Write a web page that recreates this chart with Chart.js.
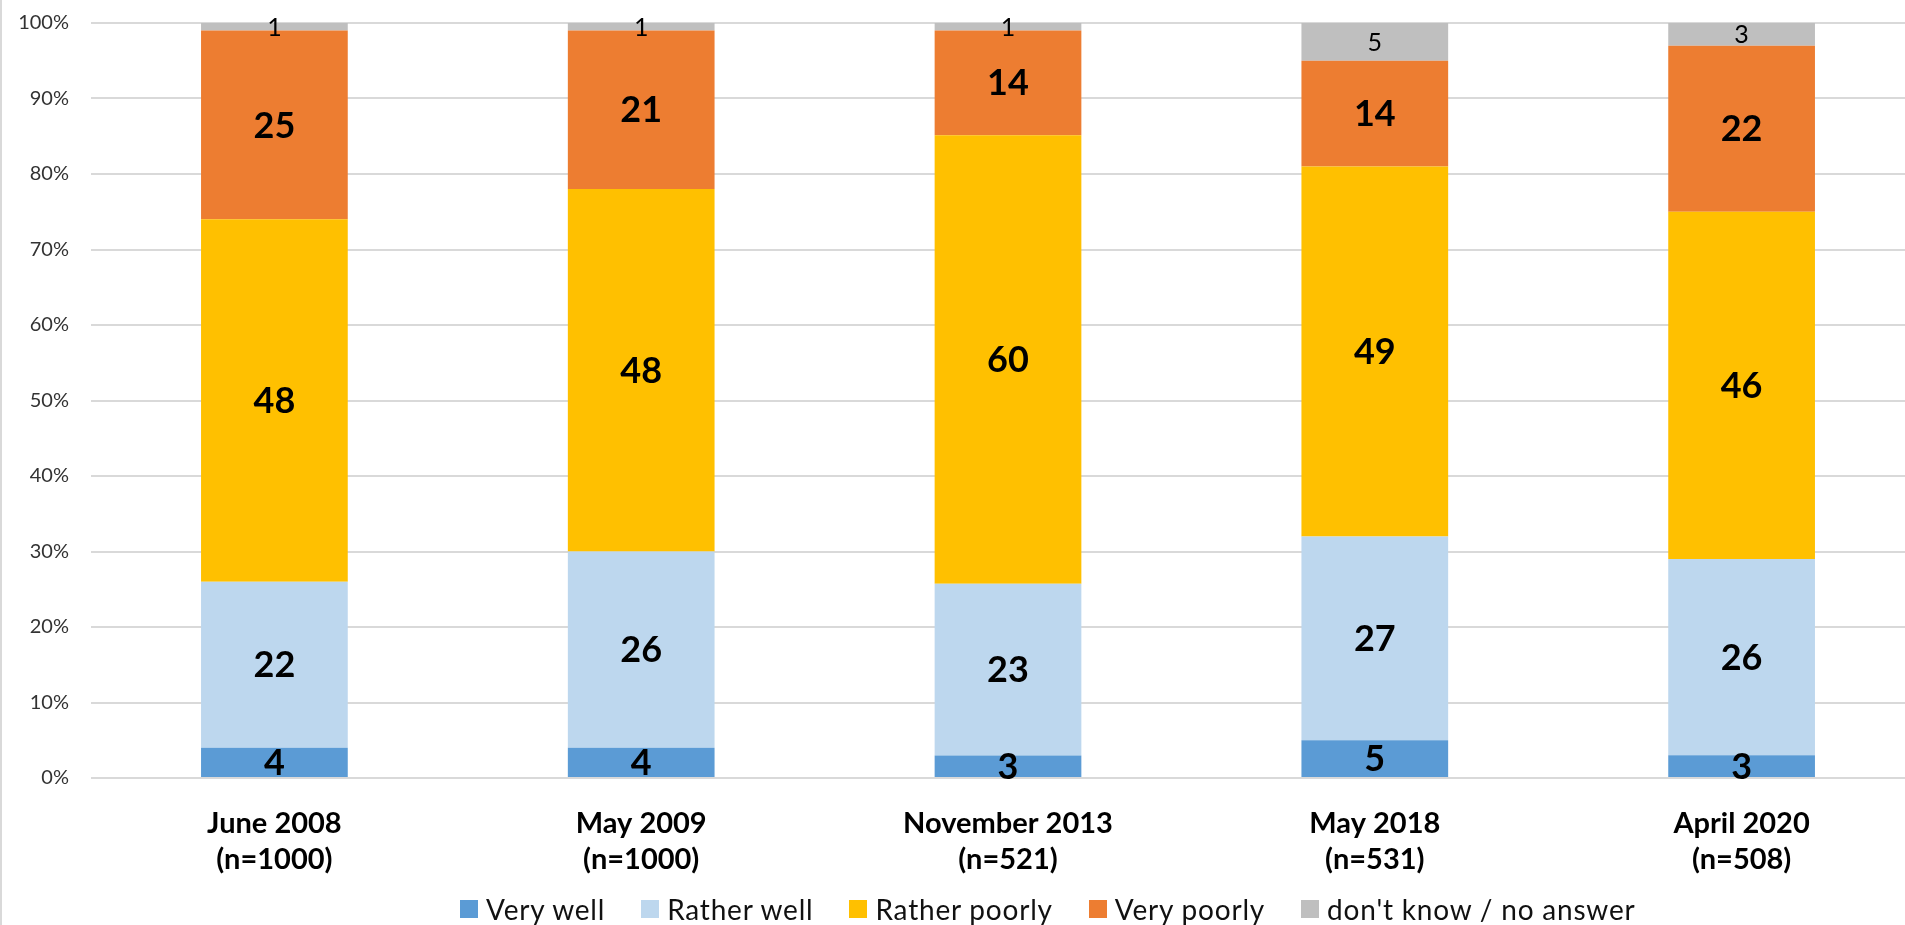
<!DOCTYPE html>
<html>
<head>
<meta charset="utf-8">
<script src="https://cdn.jsdelivr.net/npm/chart.js@4.4.1/dist/chart.umd.min.js"></script>
<style>
  html, body { margin: 0; padding: 0; background: #fff; overflow: hidden; }
  #wrap { position: relative; width: 1925px; height: 925px; }
  #wrap::before { content: ''; position: absolute; left: 0; top: 0; width: 2px; height: 925px; background: #d9d9d9; z-index: 2; }
  #legend {
    position: absolute; left: 460px; top: 892px; display: flex; align-items: center;
    font-family: Lato, sans-serif; font-size: 28px; letter-spacing: 0.8px; color: #111; white-space: nowrap;
  }
  #legend .item { display: flex; align-items: center; margin-right: 36px; }
  #legend .sw { width: 18px; height: 18px; margin-right: 8px; }
</style>
</head>
<body>
<div id="wrap">
  <canvas id="chart"></canvas>
  <div id="legend"></div>
</div>
<script>
/* global Chart */
const categories = [
  ['June 2008', '(n=1000)'],
  ['May 2009', '(n=1000)'],
  ['November 2013', '(n=521)'],
  ['May 2018', '(n=531)'],
  ['April 2020', '(n=508)']
];
const seriesNames = ['Very well', 'Rather well', 'Rather poorly', 'Very poorly', "don't know / no answer"];
const seriesColors = ['#5b9bd5', '#bdd7ee', '#ffc000', '#ed7d31', '#bfbfbf'];
const veryWell = [4, 4, 3, 5, 3];
const ratherWell = [22, 26, 23, 27, 26];
const ratherPoorly = [48, 48, 60, 49, 46];
const veryPoorly = [25, 21, 14, 14, 22];
const dontKnow = [1, 1, 1, 5, 3];
const yTicks = [0, 10, 20, 30, 40, 50, 60, 70, 80, 90, 100];

const series = [veryWell, ratherWell, ratherPoorly, veryPoorly, dontKnow];
// 100% stacked: each column normalised to its own total
const totals = categories.map((_, i) => series.reduce((s, arr) => s + arr[i], 0));

const segLabels = {
  id: 'segLabels',
  afterDatasetsDraw(chart) {
    const ctx = chart.ctx;
    chart.data.datasets.forEach((ds, di) => {
      const meta = chart.getDatasetMeta(di);
      const small = di === 4;
      meta.data.forEach((bar, i) => {
        ctx.save();
        ctx.font = small ? '25px Lato' : 'bold 36px Lato';
        ctx.fillStyle = '#000';
        ctx.textAlign = 'center';
        ctx.textBaseline = 'middle';
        ctx.fillText(String(series[di][i]), bar.x, (bar.y + bar.base) / 2 + 1);
        ctx.restore();
      });
    });
  }
};

new Chart(document.getElementById('chart'), {
  type: 'bar',
  data: {
    labels: categories,
    datasets: series.map((arr, di) => ({
      label: seriesNames[di],
      data: arr.map((v, i) => v / totals[i] * 100),
      backgroundColor: seriesColors[di],
      borderWidth: 0,
      categoryPercentage: 1,
      barPercentage: 0.4
    }))
  },
  options: {
    responsive: true,
    maintainAspectRatio: false,
    animation: false,
    layout: { padding: { top: 23, right: 0, bottom: 0, left: 0 } },
    plugins: { legend: { display: false }, tooltip: { enabled: false } },
    scales: {
      x: {
        stacked: true,
        grid: { display: false, drawTicks: false },
        border: { display: false },
        ticks: { color: '#000', padding: 28, font: { family: 'Lato', size: 29, weight: 'bold', lineHeight: 1.24 } },
        afterFit: (s) => { s.height = 147; }
      },
      y: {
        stacked: true, min: 0, max: 100,
        afterBuildTicks: (s) => { s.ticks = yTicks.map(v => ({ value: v })); },
        grid: { color: '#d9d9d9', lineWidth: 2, drawTicks: false },
        border: { display: false },
        ticks: { color: '#333', padding: 22, font: { family: 'Lato', size: 20 }, callback: (v) => v + '%' },
        afterFit: (s) => { s.width = 91; s.paddingTop = 0; s.paddingBottom = 0; }
      }
    }
  },
  plugins: [segLabels]
});

const legend = document.getElementById('legend');
seriesNames.forEach((name, i) => {
  const item = document.createElement('div');
  item.className = 'item';
  const sw = document.createElement('span');
  sw.className = 'sw';
  sw.style.background = seriesColors[i];
  const txt = document.createElement('span');
  txt.textContent = name;
  item.appendChild(sw);
  item.appendChild(txt);
  legend.appendChild(item);
});
</script>
</body>
</html>
